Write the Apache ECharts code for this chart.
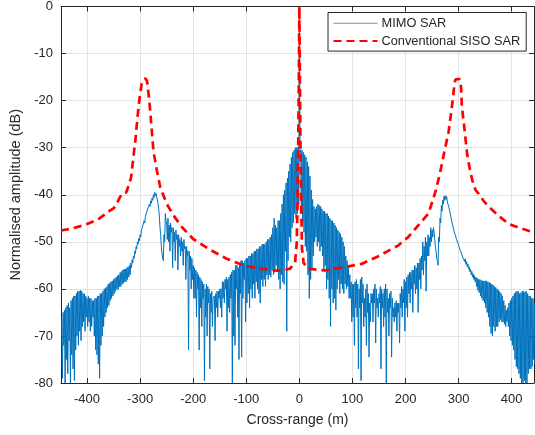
<!DOCTYPE html>
<html>
<head>
<meta charset="utf-8">
<script src="https://cdn.jsdelivr.net/npm/echarts@6/dist/echarts.min.js"></script>
<style>
  html, body { margin: 0; padding: 0; background: #fff; }
  #main { width: 535px; height: 435px; }
</style>
</head>
<body>
<div id="main"></div>
<script>
// axis limits (m, dB)
var rangeMin = -449;
var rangeMax = 442;
var dbMin = -80;
var dbMax = 0;

// MIMO SAR: one sample every 2.5 m from -447.5 m.
// mimoTop = upper edge of the trace, mimoLow = lower edge
var mimoStart = -447.5;
var mimoStep = 2.5;
var mimoTop = [
    -66, -65, -64.5, -64, -63.5, -63, -64, -62.5, -62, -61.5, -61.5, -61, -60.5, -60.5, -60.3, -60.5, -61, -61, -61.5, -62,
    -61.5, -62, -62, -62.5, -62.5, -62, -62, -61.5, -61.5, -61, -61, -60.5, -60, -59.8, -59.5, -59, -58.8, -58.5, -58.3, -58,
    -57.8, -57.5, -57.2, -57, -56.5, -56.3, -56, -55.8, -55.8, -55.5, -55.3, -55, -54.5, -53.8, -53, -52, -51, -50, -49.3, -48.5,
    -47.6, -46.6, -45.5, -44.6, -43.6, -42.8, -42, -41.3, -40.7, -40, -39.5, -39.7, -40.8, -43, -47, -51, -53.5, -48.5, -44, -46,
    -45, -46.5, -46, -47, -47, -48, -47.5, -48.5, -48.5, -49.5, -49, -50, -49.5, -51, -51, -52, -52, -53, -53.5, -55,
    -55.5, -56, -56.5, -57, -57.5, -58, -58.5, -59, -60, -59, -59.5, -60, -61, -60.5, -62, -61.5, -61, -60.5, -60.5, -60,
    -60, -58.5, -58.5, -58, -57.5, -58, -57.5, -57, -56.5, -56, -56, -55, -55, -55.5, -54.5, -54, -54, -54.5, -54, -53.5,
    -53.5, -53, -53, -52.5, -52.5, -52, -52, -51.5, -51.5, -51, -51, -50.5, -50.5, -50.5, -50, -49.5, -49.5, -49, -48.5, -47,
    -45, -46.5, -47, -45.5, -45.5, -44, -42, -40, -39, -37.5, -36.5, -35, -33.5, -32, -31, -30.5, -30, -30, -29.8, 0,
    -30.5, -30.5, -31, -31.5, -32, -33, -34, -36, -39, -41, -42.5, -43, -42.5, -42, -42.3, -42.5, -43, -43.5, -43.5, -44,
    -44, -44.5, -45, -45.5, -45.5, -46, -46.5, -47, -47.5, -48, -48.3, -49, -50, -51, -53, -54, -55.5, -57, -58.5, -59,
    -59, -58.5, -58, -59, -60, -58, -57.5, -59, -62, -60, -59, -61, -63, -61, -61, -60, -59, -60, -62, -61,
    -59.5, -60, -61, -60, -59, -60, -62, -61, -60.5, -62, -64, -63, -62.5, -63, -63, -61, -59.5, -60, -58, -58.5,
    -57.5, -57, -56.5, -56.5, -56, -56, -55, -55.5, -54.5, -54.5, -53.5, -53, -50, -51, -49, -50, -48.5, -49, -47, -47.5,
    -47, -49.5, -52, -54, -49, -45, -42.3, -41.2, -40.3, -40.2, -40.4, -41.4, -42.5, -44, -45.3, -46.5, -47.4, -48.5, -49.3, -50.3,
    -51, -51.8, -52.5, -53.1, -53.6, -54.2, -54.7, -55.3, -55.8, -56.3, -56.8, -57.2, -57.5, -57.7, -58, -58, -58.2, -58.3, -58.3, -58.3,
    -58.3, -58.5, -58.6, -58.8, -59, -59.2, -59.5, -59.7, -60, -60.3, -60.6, -61, -61.5, -62.5, -63.5, -64.5, -64, -63, -62.5, -62,
    -61.5, -61, -60.7, -60.5, -60.5, -61, -60.8, -60.5, -60.5, -60.7, -60.5, -61, -61.5, -61.5, -62, -62, -63
];
var mimoLow = [
    -79, -72, -80, -75, -78, -71, -80, -74, -77, -79.5, -73, -70, -72, -69, -71, -68, -67, -69, -66, -68,
    -67, -69, -68, -66, -70, -73, -74, -76, -79, -72, -70, -68, -66, -65, -64, -63.5, -62.5, -62, -61.5, -61,
    -60.5, -60, -60.2, -59.5, -59.5, -59, -58.8, -58.5, -58.5, -58, -57.5, -57, -55.5, -54.5, -53.5, -52.5, -51.5, -50.5, -49.8, -49,
    -48, -47, -46, -45, -44, -43.2, -42.5, -41.8, -41.2, -40.6, -40.2, -40.5, -41.8, -44.5, -48.5, -52.5, -54, -50, -45.5, -49.5,
    -50, -52, -48, -55.5, -50, -54, -49.5, -56, -51, -53, -52, -55, -51.5, -58, -53, -73, -56, -60, -58, -62,
    -62, -66, -60, -73, -64, -68, -62, -79.5, -66, -70, -63, -77, -65, -68, -62, -71, -64, -66, -62, -64,
    -66, -62, -63, -60, -69, -64, -65, -62, -80, -70, -72, -60, -66, -75, -61, -74.5, -62, -58, -67, -63,
    -61, -64, -60, -62, -59, -62, -58.5, -60, -61, -63, -58, -59.5, -58, -59.5, -57, -58, -57, -57.5, -56, -57,
    -56.5, -55, -56, -58, -60, -57, -58.5, -59, -52, -69, -54, -49, -50, -47, -46, -44, -45, -44, -42, -31,
    -44, -46, -48, -51, -52, -57, -62, -58, -56, -53, -50, -49, -51, -50, -52, -51, -53, -56, -55, -60,
    -58, -62, -68, -60, -63, -62, -64.5, -60, -58, -61, -59, -60, -61, -59, -60, -59.5, -62, -62, -67, -66,
    -72, -64, -66, -77, -64, -79.5, -63, -68, -66, -72, -65, -74.5, -67, -63, -67, -63, -71.5, -64, -66, -63,
    -77, -64, -68, -66, -80, -65, -70, -64, -74.5, -66, -67, -66, -69, -65, -71.5, -64, -66, -63, -69, -64,
    -66, -61, -63, -60, -65, -59, -61, -60, -65, -58, -60, -56, -57, -54, -60.5, -53, -53, -51, -50, -49,
    -48, -51, -53.5, -55, -50, -46, -43.5, -42, -41.2, -41, -41.5, -42.5, -43.7, -45.2, -46.5, -47.7, -48.6, -49.5, -50.3, -51.2,
    -52, -52.8, -53.5, -54.2, -54.8, -55.3, -55.8, -56.4, -57, -57.5, -58, -58.5, -59.5, -60.3, -60.8, -61.5, -62, -62.5, -63, -64,
    -65, -66, -68, -69.5, -70, -68, -69, -68, -68, -67, -66.5, -67, -67, -67.5, -68, -67, -68, -70, -71, -72,
    -73, -75, -76.5, -77, -78, -79, -80, -80, -79.5, -80, -80, -78, -77, -77, -76.5, -75, -76
];

// Conventional SISO SAR
var sisoRange = [
    -449, -430, -410, -395, -380, -369, -360, -350, -344, -338, -332, -326, -320, -317, -312.6, -309, -306, -303, -300, -297,
    -294, -290, -287, -284, -281, -278, -275, -268.5, -262, -250, -237, -221, -200, -168, -137, -105, -74, -36, -17.5, -8,
    -5, -3.5, -2, -1, 0, 1, 2, 3.5, 5, 8, 16, 48, 79, 117, 148, 186, 205, 224, 243, 248,
    256, 264, 272, 281, 286, 289.5, 292, 294, 302, 304.5, 306, 311, 316, 321, 326, 332, 338, 347, 357, 379,
    394, 419, 442
];
var sisoDb = [
    -47.6, -47.2, -46.6, -46, -45.3, -44.4, -43.6, -42.9, -41.9, -40.5, -39.6, -39.5, -37.5, -36.3, -32, -28.5, -24.9, -21.4, -18.6, -16.4,
    -15.5, -15.3, -15.8, -18.6, -22.1, -26.3, -30.6, -34.8, -38.4, -41.9, -44.4, -46.9, -49.4, -51.7, -53.6, -55, -55.7, -56.2, -55.7, -54.3,
    -50.4, -42, -28, -15, 0, -15, -28, -42, -51.5, -54.5, -55.7, -56.1, -55.5, -54.7, -53.1, -50.8, -49, -46.5, -44, -42.3,
    -39.5, -35.9, -31.5, -26.7, -22.5, -19.3, -16.5, -15.5, -15.4, -17, -21, -26, -31.3, -34.5, -37, -39, -39.8, -41.3, -42.6, -44.8,
    -46.2, -47.2, -48
];

// the trace swings from its upper edge to its lower edge half a sample later
var mimoData = [];
for (var i = 0; i < mimoTop.length; i++) {
    var x = mimoStart + i * mimoStep;
    mimoData.push([x, mimoTop[i]]);
    mimoData.push([x + mimoStep / 2, mimoLow[i]]);
}
var sisoData = [];
for (var j = 0; j < sisoRange.length; j++) {
    sisoData.push([sisoRange[j], sisoDb[j]]);
}

var textColor = '#262626';
var fontName = 'Liberation Sans, Arial, sans-serif';

var myChart = echarts.init(document.getElementById('main'), null, { renderer: 'canvas' });

var option = {
    animation: false,
    backgroundColor: '#fff',
    grid: { left: 61, right: 1, top: 6, bottom: 52, containLabel: false },
    legend: {
        orient: 'vertical',
        left: 328,
        top: 12.5,
        padding: [4.3, 6, 3.6, 4.5],
        itemGap: 4.7,
        itemWidth: 44,
        itemHeight: 14,
        backgroundColor: '#fff',
        borderColor: '#262626',
        borderWidth: 1,
        borderRadius: 0,
        itemStyle: { color: 'transparent', borderWidth: 0, opacity: 0 },
        textStyle: { color: textColor, fontFamily: fontName, fontSize: 12.8, padding: [0, 0, 0, -1] },
        data: [
            { name: 'MIMO SAR', lineStyle: { width: 1, color: '#4d9fd6' } },
            'Conventional SISO SAR'
        ]
    },
    xAxis: [
        {
            type: 'value',
            min: rangeMin,
            max: rangeMax,
            splitNumber: 9,
            name: 'Cross-range (m)',
            nameLocation: 'middle',
            nameGap: 30,
            nameTextStyle: { color: textColor, fontFamily: fontName, fontSize: 14 },
            axisLine: { onZero: false, lineStyle: { color: textColor, width: 1 } },
            axisTick: { inside: true, length: 5, lineStyle: { color: textColor } },
            axisLabel: { color: textColor, fontFamily: fontName, fontSize: 13, margin: 10, showMinLabel: false, showMaxLabel: false },
            splitLine: { show: true, lineStyle: { color: '#e3e3e3', width: 1 } }
        },
        {
            type: 'value',
            position: 'top',
            min: rangeMin,
            max: rangeMax,
            splitNumber: 9,
            axisLine: { onZero: false, lineStyle: { color: textColor, width: 1 } },
            axisTick: { inside: true, length: 5, lineStyle: { color: textColor } },
            axisLabel: { show: false },
            splitLine: { show: false }
        }
    ],
    yAxis: [
        {
            type: 'value',
            min: dbMin,
            max: dbMax,
            interval: 10,
            name: 'Normalised amplitude (dB)',
            nameLocation: 'middle',
            nameGap: 30,
            nameTextStyle: { color: textColor, fontFamily: fontName, fontSize: 14.5 },
            axisLine: { show: true, onZero: false, lineStyle: { color: textColor, width: 1 } },
            axisTick: { show: true, inside: true, length: 5, lineStyle: { color: textColor } },
            axisLabel: { color: textColor, fontFamily: fontName, fontSize: 13, margin: 8 },
            splitLine: { show: true, lineStyle: { color: '#e3e3e3', width: 1 } }
        },
        {
            type: 'value',
            position: 'right',
            min: dbMin,
            max: dbMax,
            interval: 10,
            axisLine: { show: true, onZero: false, lineStyle: { color: textColor, width: 1 } },
            axisTick: { show: true, inside: true, length: 5, lineStyle: { color: textColor } },
            axisLabel: { show: false },
            splitLine: { show: false }
        }
    ],
    series: [
        {
            name: 'MIMO SAR',
            type: 'line',
            xAxisIndex: 0,
            yAxisIndex: 0,
            data: mimoData,
            symbol: 'none',
            showSymbol: false,
            sampling: null,
            color: '#0072BD',
            lineStyle: { color: '#0072BD', width: 1 },
            z: 2
        },
        {
            name: 'Conventional SISO SAR',
            type: 'line',
            xAxisIndex: 0,
            yAxisIndex: 0,
            data: sisoData,
            symbol: 'none',
            showSymbol: false,
            color: '#ff0000',
            lineStyle: { color: '#ff0000', width: 2.7, type: [8, 5] },
            z: 3
        }
    ]
};

myChart.setOption(option);
</script>
</body>
</html>
